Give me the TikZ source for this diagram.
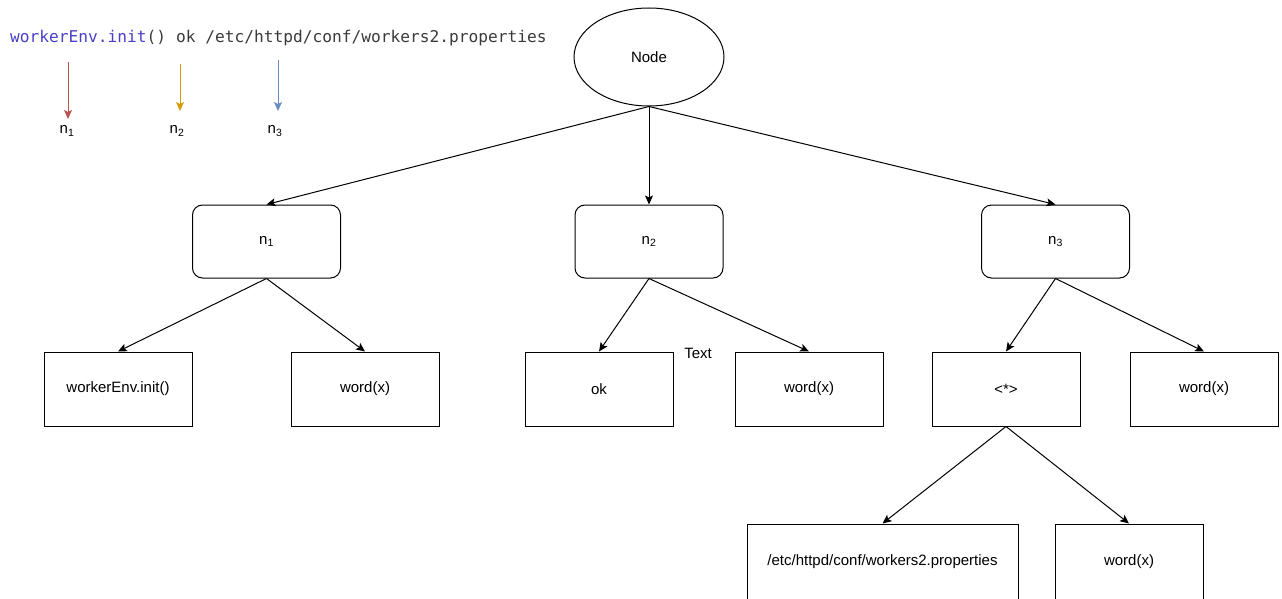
\documentclass[tikz,border=0pt]{standalone}
\usepackage{fontspec}
\setmainfont{Liberation Sans}
\newfontfamily\codefont{DejaVu Sans Mono}
\usetikzlibrary{shapes.geometric,arrows.meta}
\definecolor{codeblue}{HTML}{4A3FC8}
\definecolor{codegray}{HTML}{3A3A3A}
\definecolor{tokred}{HTML}{B85450}
\definecolor{tokorange}{HTML}{D79B00}
\definecolor{tokblue}{HTML}{6C8EBF}
\tikzset{
  every node/.style={font=\fontsize{15}{17}\selectfont, inner sep=0pt},
  box/.style={draw, line width=1pt, minimum width=148pt, minimum height=74pt},
  rbox/.style={box, rounded corners=10pt, minimum height=73pt},
  edge/.style={line width=1pt, -{Stealth[length=9pt,width=8pt,inset=2pt]}},
  tok/.style={line width=1pt, -{Stealth[length=9pt,width=8pt,inset=2pt]}},
}
\begin{document}
\begin{tikzpicture}[x=1pt,y=-1pt]
\useasboundingbox (0,0) rectangle (1282,599);

% source line split into tokens
\node[anchor=base west, font=\codefont\fontsize{16.2}{18}\selectfont] (code) at (10,43)
  {\textcolor{codeblue}{workerEnv.init}\textcolor{codegray}{() ok /etc/httpd/conf/workers2.properties}};

\coordinate (t1a) at (68,62);  \node (t1) at (67,131) {n\textsubscript{1}};
\coordinate (t2a) at (180,64); \node (t2) at (177,131) {n\textsubscript{2}};
\coordinate (t3a) at (278,60); \node (t3) at (275,131) {n\textsubscript{3}};
\draw[tok, draw=tokred, fill=tokred] (t1a) -- (68,119);
\draw[tok, draw=tokorange, fill=tokorange] (t2a) -- (180,111);
\draw[tok, draw=tokblue, fill=tokblue] (t3a) -- (278,111);

% parse tree
\node[draw, ellipse, line width=1pt, minimum width=150pt, minimum height=98pt] (root) at (649,57) {Node};

\node[rbox] (n1) at (266.5,241.5) {n\textsubscript{1}};
\node[rbox] (n2) at (649,241.5) {n\textsubscript{2}};
\node[rbox] (n3) at (1055.5,241.5) {n\textsubscript{3}};

\node[box] (w1) at (118,389) {workerEnv.init()};
\node[box] (x1) at (365,389) {word(x)};
\node[box] (ok) at (599,389) {ok};
\node[box] (x2) at (809,389) {word(x)};
\node[box] (st) at (1006,389) {<*>};
\node[box] (x3) at (1204,389) {word(x)};

\node[box, minimum width=271pt, minimum height=76pt] (path) at (882.5,562) {/etc/httpd/conf/workers2.properties};
\node[box, minimum height=76pt] (x4) at (1129,562) {word(x)};

\node (lbl) at (698,353) {Text};

\draw[edge] (root.south) -- (n1.north);
\draw[edge] (root.south) -- (n2.north);
\draw[edge] (root.south) -- (n3.north);
\draw[edge] (n1.south) -- (w1.north);
\draw[edge] (n1.south) -- (x1.north);
\draw[edge] (n2.south) -- (ok.north);
\draw[edge] (n2.south) -- (x2.north);
\draw[edge] (n3.south) -- (st.north);
\draw[edge] (n3.south) -- (x3.north);
\draw[edge] (st.south) -- (path.north);
\draw[edge] (st.south) -- (x4.north);
\end{tikzpicture}
\end{document}
